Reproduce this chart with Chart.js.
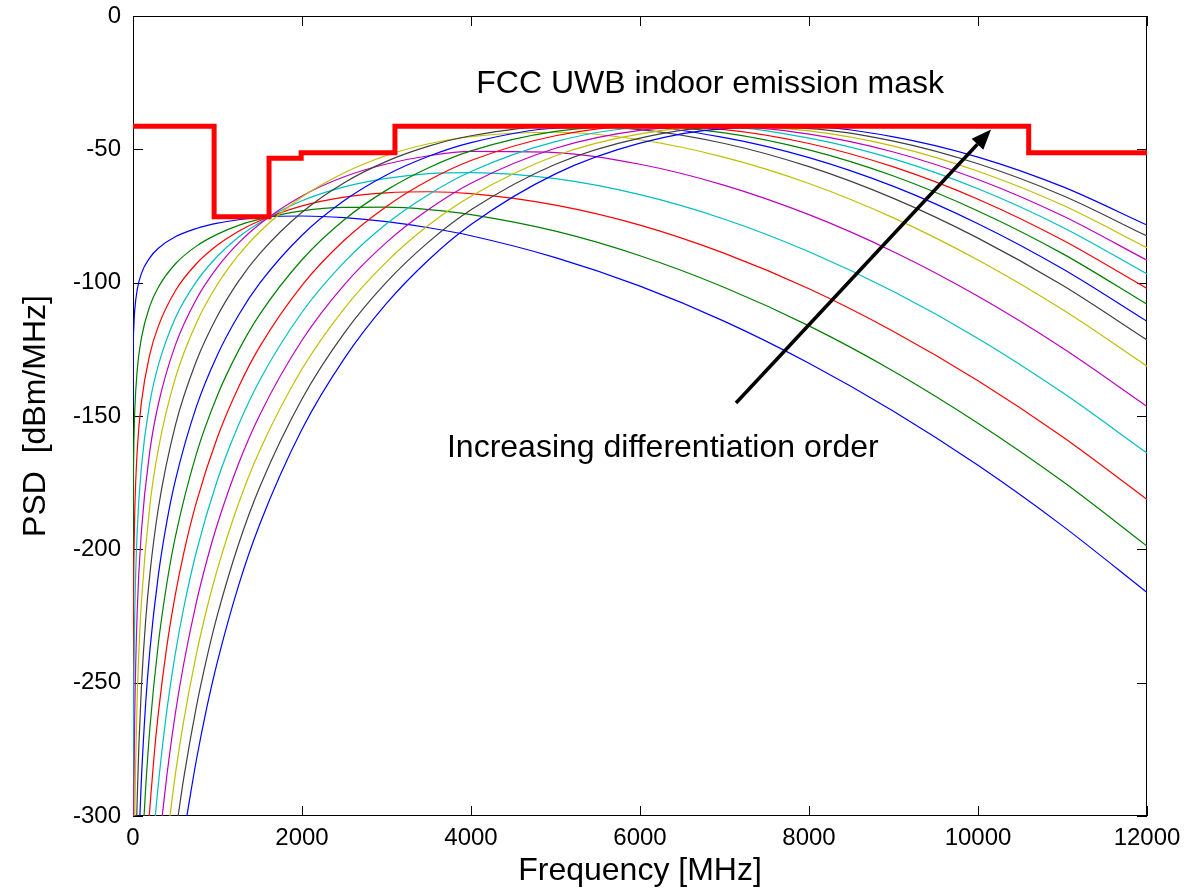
<!DOCTYPE html>
<html>
<head>
<meta charset="utf-8">
<script src="https://cdn.jsdelivr.net/npm/chart.js@4.4.0/dist/chart.umd.min.js"></script>
<style>
  html, body { margin: 0; padding: 0; background: #fff; }
  #wrap { width: 1184px; height: 890px; }
</style>
</head>
<body>
<div id="wrap"><canvas id="psd"></canvas></div>
<script>
// PSD of the n-th derivative of a gaussian pulse
// frequency in MHz, PSD in dBm/MHz

const maskF = [0, 960, 960, 1610, 1610, 1990, 1990, 3100, 3100, 10600, 10600, 12000];
const maskP = [-41.3, -41.3, -75.3, -75.3, -53.3, -53.3, -51.3, -51.3, -41.3, -41.3, -51.3, -51.3];

const f1 = [0.3, 2, 10, 20, 50, 100, 200, 300, 500, 750, 1000, 1250, 1500, 2000, 2500, 3000, 3500, 4000, 5000, 6000, 7000, 8000, 9000, 10000, 11000, 12000];
const psd1 = [-147, -130.5, -116.5, -110.5, -102.6, -96.5, -90.6, -87.1, -82.8, -79.7, -77.7, -76.4, -75.5, -75.0, -75.6, -77.1, -79.4, -82.4, -90.6, -101.3, -114.5, -130.2, -148.2, -168.5, -191.2, -216.2];

const f2 = [0, 1, 5, 10, 20, 50, 100, 200, 300, 500, 750, 1000, 1250, 1500, 2000, 2500, 3000, 3500, 4000, 5000, 6000, 7000, 8000, 9000, 10000, 11000, 12000];
const psd2 = [-300, -200.7, -172.7, -160.7, -148.6, -132.7, -120.7, -108.7, -101.7, -93.0, -86.3, -81.8, -78.5, -76.2, -73.1, -71.8, -71.7, -72.6, -74.5, -80.7, -89.9, -101.8, -116.2, -133.2, -152.7, -174.5, -198.8];

const f3 = [0.26, 2, 5, 10, 20, 50, 100, 200, 300, 500, 750, 1000, 1250, 1500, 2000, 2500, 3000, 3500, 4000, 5000, 6000, 7000, 8000, 9000, 10000, 11000, 12000];
const psd3 = [-300, -246.7, -222.9, -204.8, -186.7, -162.9, -144.8, -126.8, -116.3, -103.1, -92.9, -85.9, -80.7, -76.8, -71.2, -67.9, -66.3, -65.9, -66.6, -70.9, -78.4, -89.0, -102.3, -118.3, -136.8, -157.8, -181.3];

const f4 = [2.3, 5, 10, 20, 50, 100, 200, 300, 500, 750, 1000, 1250, 1500, 2000, 2500, 3000, 3500, 4000, 5000, 6000, 7000, 8000, 9000, 10000, 11000, 12000];
const psd4 = [-300, -273.0, -248.9, -224.9, -193.0, -169.0, -144.9, -130.9, -113.3, -99.6, -90.1, -82.9, -77.4, -69.3, -64.1, -60.9, -59.1, -58.7, -61.0, -67.0, -76.2, -88.4, -103.3, -120.9, -141.2, -163.9];

const f5 = [8.5, 10, 20, 50, 100, 200, 300, 500, 750, 1000, 1250, 1500, 2000, 2500, 3000, 3500, 4000, 5000, 6000, 7000, 8000, 9000, 10000, 11000, 12000];
const psd5 = [-300, -293.1, -263.0, -223.2, -193.1, -163.0, -145.5, -123.5, -106.2, -94.2, -85.1, -78.0, -67.5, -60.3, -55.5, -52.4, -50.8, -51.2, -55.6, -63.5, -74.5, -88.4, -105.1, -124.5, -146.4];

const f6 = [21.3, 30, 50, 70, 100, 200, 300, 500, 750, 1000, 1250, 1500, 2000, 2500, 3000, 3500, 4000, 5000, 6000, 7000, 8000, 9000, 10000, 11000, 12000];
const psd6 = [-300, -282.3, -255.6, -238.1, -219.5, -183.4, -162.4, -135.9, -115.1, -100.6, -89.6, -80.9, -67.9, -58.8, -52.3, -47.9, -45.2, -43.6, -46.4, -53.0, -62.8, -75.7, -91.5, -110.1, -131.3];

const f7 = [44.9, 50, 70, 100, 150, 200, 300, 500, 750, 1000, 1250, 1500, 2000, 2500, 3000, 3500, 4000, 5000, 6000, 7000, 8000, 9000, 10000, 11000, 12000];
const psd7 = [-300, -293.4, -273.0, -251.3, -226.6, -209.2, -184.6, -153.7, -129.4, -112.4, -99.4, -89.1, -73.6, -62.5, -54.5, -48.8, -44.9, -41.4, -42.6, -47.8, -56.5, -68.4, -83.3, -101.0, -121.5];

const f8 = [81.6, 100, 150, 200, 300, 400, 500, 750, 1000, 1250, 1500, 2000, 2500, 3000, 3500, 4000, 5000, 6000, 7000, 8000, 9000, 10000, 11000, 12000];
const psd8 = [-300, -285.9, -257.7, -237.8, -209.7, -189.7, -174.3, -146.5, -127.0, -112.1, -100.2, -82.2, -69.2, -59.6, -52.6, -47.5, -42.1, -41.7, -45.6, -53.1, -63.9, -77.9, -94.8, -114.5];

const f9 = [131, 150, 200, 300, 400, 500, 750, 1000, 1250, 1500, 2000, 2500, 3000, 3500, 4000, 5000, 6000, 7000, 8000, 9000, 10000, 11000, 12000];
const psd9 = [-300, -289.4, -266.9, -235.3, -212.9, -195.5, -164.2, -142.2, -125.4, -111.9, -91.4, -76.4, -65.3, -56.9, -50.6, -43.3, -41.3, -43.8, -50.2, -60.0, -73.1, -89.1, -108.1];

const f10 = [192, 250, 300, 400, 500, 600, 750, 1000, 1250, 1500, 2000, 2500, 3000, 3500, 4000, 5000, 6000, 7000, 8000, 9000, 10000, 11000, 12000];
const psd10 = [-300, -277.2, -261.4, -236.5, -217.2, -201.5, -182.4, -157.9, -139.1, -124.0, -101.0, -84.1, -71.4, -61.6, -54.2, -44.9, -41.4, -42.6, -47.8, -56.6, -68.7, -84.0, -102.2];

const f11 = [264, 300, 400, 500, 600, 750, 1000, 1250, 1500, 2000, 2500, 3000, 3500, 4000, 5000, 6000, 7000, 8000, 9000, 10000, 11000, 12000];
const psd11 = [-300, -288.0, -260.6, -239.3, -222.0, -200.9, -173.9, -153.3, -136.6, -111.1, -92.3, -77.9, -66.9, -58.3, -47.1, -42.0, -41.8, -45.8, -53.6, -64.8, -79.2, -96.7];

const f12 = [346, 400, 500, 600, 750, 875, 1000, 1250, 1500, 2000, 2500, 3000, 3500, 4000, 5000, 6000, 7000, 8000, 9000, 10000, 11000, 12000];
const psd12 = [-300, -285.0, -261.8, -243.0, -219.9, -204.1, -190.4, -167.8, -149.6, -121.6, -100.8, -84.9, -72.5, -62.7, -49.6, -42.9, -41.4, -44.3, -51.0, -61.3, -74.9, -91.6];

const f13 = [437, 500, 600, 750, 875, 1000, 1250, 1500, 2000, 2500, 3000, 3500, 4000, 5000, 6000, 7000, 8000, 9000, 10000, 11000, 12000];
const psd13 = [-300, -284.7, -264.3, -239.3, -222.1, -207.3, -182.7, -162.9, -132.4, -109.7, -92.2, -78.4, -67.6, -52.4, -44.2, -41.3, -43.1, -48.8, -58.2, -70.9, -86.9];

const f14 = [534, 600, 750, 875, 1000, 1250, 1500, 2000, 2500, 3000, 3500, 4000, 5000, 6000, 7000, 8000, 9000, 10000, 11000, 12000];
const psd14 = [-300, -285.9, -259.0, -240.5, -224.5, -198.0, -176.6, -143.6, -118.9, -99.8, -84.7, -72.7, -55.6, -45.8, -41.6, -42.2, -46.9, -55.4, -67.3, -82.5];

const f15 = [637, 750, 875, 1000, 1250, 1500, 2000, 2500, 3000, 3500, 4000, 5000, 6000, 7000, 8000, 9000, 10000, 11000, 12000];
const psd15 = [-300, -279.0, -259.1, -242.0, -213.5, -190.6, -155.0, -128.5, -107.8, -91.4, -78.2, -59.2, -47.7, -42.2, -41.6, -45.3, -52.9, -64.0, -78.4];

const curves = [
  [f1, psd1], [f2, psd2], [f3, psd3], [f4, psd4], [f5, psd5],
  [f6, psd6], [f7, psd7], [f8, psd8], [f9, psd9], [f10, psd10],
  [f11, psd11], [f12, psd12], [f13, psd13], [f14, psd14], [f15, psd15]
];

// matlab default colour order
const lineColours = ['#0000ff', '#008000', '#ff0000', '#00bfbf', '#bf00bf', '#bfbf00', '#404040'];

const xTicks = [0, 2000, 4000, 6000, 8000, 10000, 12000];
const yTicks = [-300, -250, -200, -150, -100, -50, 0];

// annotations, in data units
const maskLabel = 'FCC UWB indoor emission mask';
const maskLabelAt = [6830, -25.6];
const arrowLabel = 'Increasing differentiation order';
const arrowLabelAt = [6270, -162.0];
const arrowFrom = [7136, -145.1];
const arrowTo = [10155, -42.6];

const FONT = "'Liberation Sans', Arial, sans-serif";
Chart.defaults.font.family = FONT;
Chart.defaults.color = '#000';

const toPoints = (xs, ys) => xs.map((v, i) => ({ x: v, y: ys[i] }));

const datasets = [{
  label: 'mask',
  data: toPoints(maskF, maskP),
  borderColor: '#ff0000',
  borderWidth: 5,
  borderJoinStyle: 'miter',
  tension: 0,
  pointRadius: 0,
  order: 0
}];

curves.forEach(([xs, ys], i) => {
  datasets.push({
    label: 'order ' + (i + 1),
    data: toPoints(xs, ys),
    borderColor: lineColours[i % lineColours.length],
    borderWidth: 1.2,
    cubicInterpolationMode: 'monotone',
    pointRadius: 0,
    order: curves.length - i
  });
});

// keep the plot box where the reference has it, whatever the tick labels need
const noPad = s => { s.paddingTop = 0; s.paddingBottom = 0; s.paddingLeft = 0; s.paddingRight = 0; };

const frame = {
  id: 'frame',
  beforeDatasetsDraw(chart) {
    const { ctx, chartArea: a, scales } = chart;
    ctx.save();
    ctx.strokeStyle = '#000';
    ctx.lineWidth = 1;
    ctx.strokeRect(a.left + 0.5, a.top + 0.5, a.right - a.left - 1, a.bottom - a.top - 1);
    ctx.beginPath();
    xTicks.forEach(v => {
      const px = Math.round(scales.x.getPixelForValue(v)) + 0.5;
      ctx.moveTo(px, a.bottom); ctx.lineTo(px, a.bottom - 10);
      ctx.moveTo(px, a.top); ctx.lineTo(px, a.top + 10);
    });
    yTicks.forEach(v => {
      const py = Math.round(scales.y.getPixelForValue(v)) + 0.5;
      ctx.moveTo(a.left, py); ctx.lineTo(a.left + 10, py);
      ctx.moveTo(a.right, py); ctx.lineTo(a.right - 10, py);
    });
    ctx.stroke();
    ctx.restore();
  }
};

const notes = {
  id: 'notes',
  afterDatasetsDraw(chart) {
    const { ctx, scales: { x, y } } = chart;
    const x0 = x.getPixelForValue(arrowFrom[0]), y0 = y.getPixelForValue(arrowFrom[1]);
    const x1 = x.getPixelForValue(arrowTo[0]), y1 = y.getPixelForValue(arrowTo[1]);
    const ang = Math.atan2(y1 - y0, x1 - x0);
    const head = 20, half = 8;
    const bx = x1 - head * Math.cos(ang), by = y1 - head * Math.sin(ang);
    ctx.save();
    ctx.strokeStyle = '#000';
    ctx.fillStyle = '#000';
    ctx.lineWidth = 3.5;
    ctx.beginPath();
    ctx.moveTo(x0, y0);
    ctx.lineTo(bx, by);
    ctx.stroke();
    ctx.beginPath();
    ctx.moveTo(x1, y1);
    ctx.lineTo(bx + half * Math.sin(ang), by - half * Math.cos(ang));
    ctx.lineTo(bx - half * Math.sin(ang), by + half * Math.cos(ang));
    ctx.closePath();
    ctx.fill();

    ctx.font = '32px ' + FONT;
    ctx.textAlign = 'center';
    ctx.textBaseline = 'middle';
    ctx.fillText(maskLabel, x.getPixelForValue(maskLabelAt[0]), y.getPixelForValue(maskLabelAt[1]));
    ctx.fillText(arrowLabel, x.getPixelForValue(arrowLabelAt[0]), y.getPixelForValue(arrowLabelAt[1]));
    ctx.restore();
  }
};

new Chart(document.getElementById('psd'), {
  type: 'line',
  data: { datasets },
  options: {
    responsive: true,
    maintainAspectRatio: false,
    animation: false,
    events: [],
    layout: { padding: { left: 0, top: 16, right: 37, bottom: 0 } },
    plugins: { legend: { display: false }, tooltip: { enabled: false } },
    scales: {
      x: {
        type: 'linear',
        min: 0,
        max: 12000,
        grid: { display: false, drawTicks: false },
        border: { display: false },
        afterBuildTicks: s => { s.ticks = xTicks.map(v => ({ value: v })); },
        afterFit: s => { s.height = 74; noPad(s); },
        ticks: { font: { size: 24 }, padding: 8, maxRotation: 0, callback: v => String(v) },
        title: { display: true, text: 'Frequency [MHz]', font: { size: 32 }, padding: 0 }
      },
      y: {
        type: 'linear',
        min: -300,
        max: 0,
        grid: { display: false, drawTicks: false },
        border: { display: false },
        afterBuildTicks: s => { s.ticks = yTicks.map(v => ({ value: v })); },
        afterFit: s => { s.width = 133; noPad(s); },
        ticks: { font: { size: 24 }, padding: 12, callback: v => String(v) },
        title: { display: true, text: 'PSD  [dBm/MHz]', font: { size: 32 }, padding: { top: 17, bottom: 0 } }
      }
    }
  },
  plugins: [frame, notes]
});
</script>
</body>
</html>
